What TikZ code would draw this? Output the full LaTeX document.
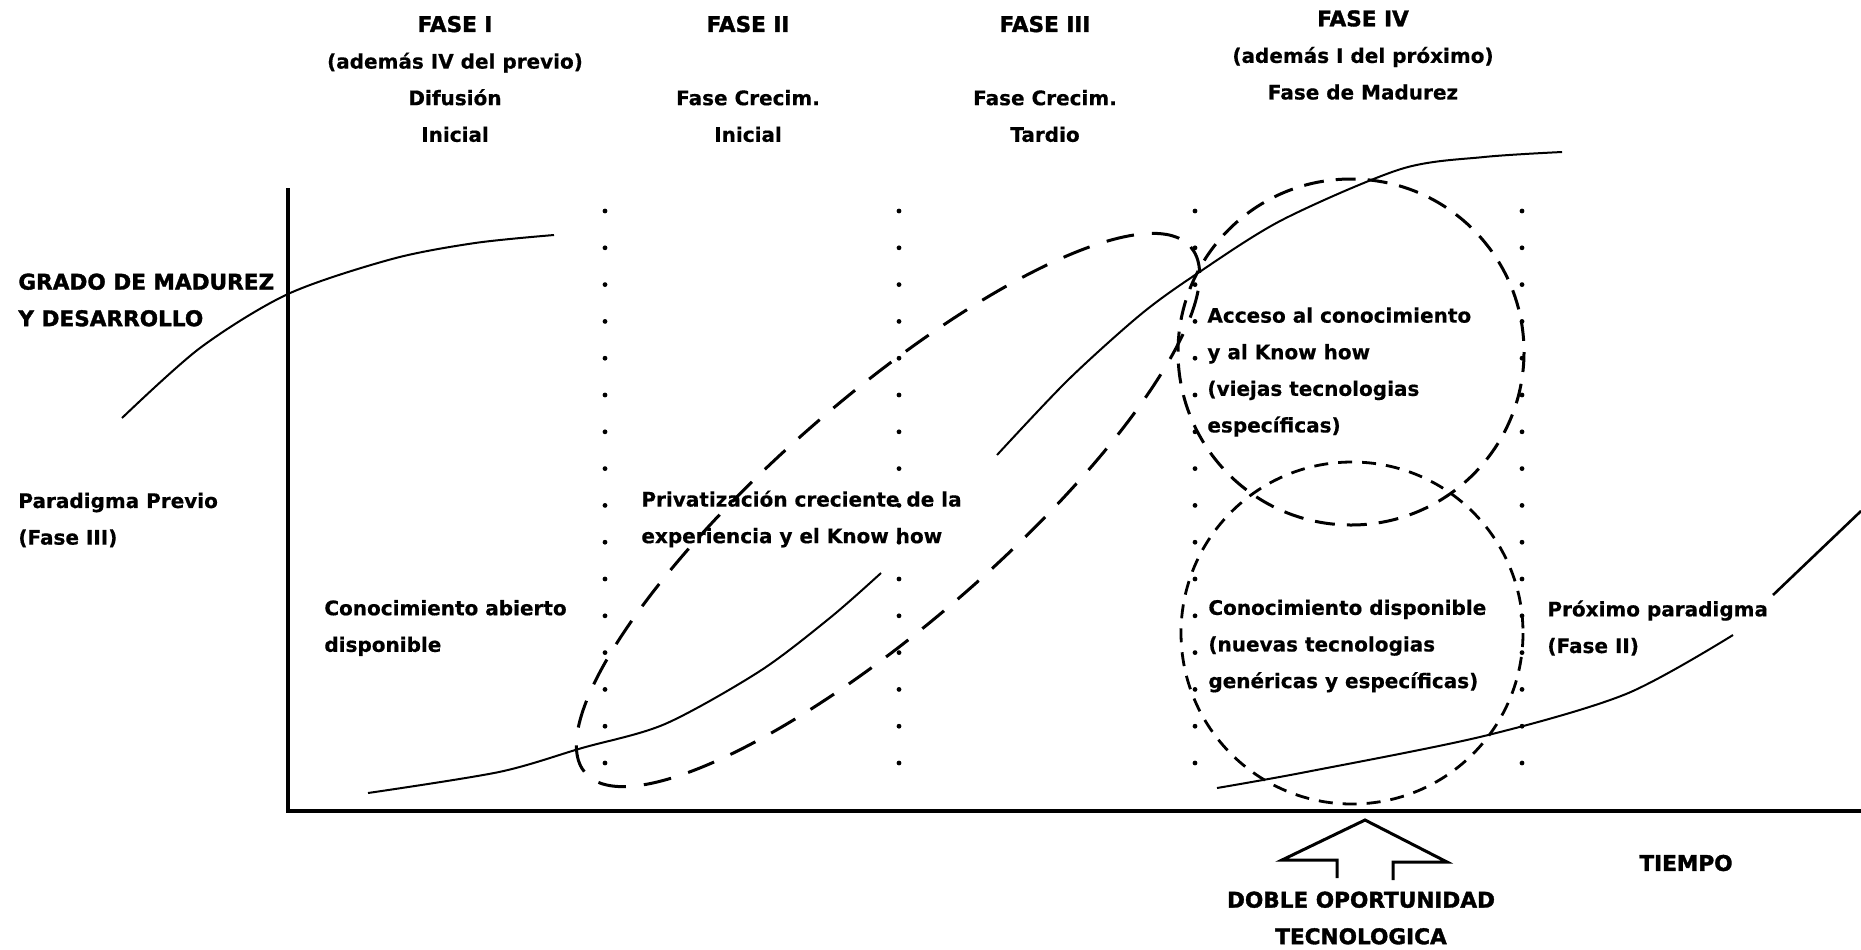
\documentclass[tikz,border=0pt]{standalone}
\usepackage{fontspec}
\setmainfont{DejaVu Sans}
\newfontfamily\bodyfont{DejaVu Sans}[FakeBold=0.5]
\newfontfamily\heavyfont{DejaVu Sans}[FakeBold=1.6]
\newcommand{\cuerpo}{\fontsize{10}{18.3}\bodyfont\bfseries}
\newcommand{\titulo}{\fontsize{10.8}{18.3}\heavyfont\bfseries}

\begin{document}
\begin{tikzpicture}[x=0.5pt, y=-0.5pt,
    curva/.style={line width=1pt},
    eje/.style={line width=1.7pt},
    puntos/.style={line width=2.4pt, line cap=round, dash pattern=on 0pt off 18.4pt},
    largo/.style={line width=1.5pt, dash pattern=on 14pt off 9pt},
    medio/.style={line width=1.5pt, dash pattern=on 10pt off 6pt},
    corto/.style={line width=1.4pt, dash pattern=on 7pt off 5pt},
    cab/.style={font=\cuerpo, align=center, inner sep=0pt},
    lbl/.style={font=\cuerpo, align=left, inner sep=0pt, anchor=west}]
  \useasboundingbox (0,0) rectangle (1861,949);
  % ejes
  \draw[eje] (288,188) -- (288,811) -- (1861,811);
  \foreach \x in {605,899,1195,1522}
    \draw[puntos] (\x,211) -- (\x,795);
  % curvas
  \draw[curva] plot[smooth] coordinates {(122,418) (200,348) (288,294) (392,259) (475,243) (554,235)};
  \draw[curva] plot[smooth] coordinates {(368,793) (499,772) (582,748) (665,724) (760,671) (831,617) (881,573)};
  \draw[curva] plot[smooth] coordinates {(997,455) (1068,380) (1140,315) (1195,275) (1282,220) (1401,169) (1484,157) (1562,152)};
  \draw[curva] plot[smooth] coordinates {(1217,788) (1306,772) (1484,736) (1626,694) (1733,635)};
  \draw[curva, line width=1.3pt] (1773,595) -- (1861,511);
  % zonas
  \draw[largo, rotate around={41:(888,510)}] (888,510) ellipse [x radius=401, y radius=113];
  \draw[medio] (1351,352) circle [radius=173];
  \draw[corto] (1352,633) circle [radius=171];
  % flecha doble
  \draw[line width=1.5pt] (1337,878) -- (1337,860) -- (1282,860) -- (1365,820) -- (1447,862) -- (1393,862) -- (1393,880);
  % textos
  \draw (455,79) node[cab] (fase1) {{\titulo FASE I}\\(además IV del previo)\\Difusión\\Inicial};
  \draw (748,79) node[cab] (fase2) {{\titulo FASE II}\\[18.3pt]Fase Crecim.\\Inicial};
  \draw (1045,79) node[cab] (fase3) {{\titulo FASE III}\\[18.3pt]Fase Crecim.\\Tardio};
  \draw (1363,55) node[cab] (fase4) {{\titulo FASE IV}\\(además I del próximo)\\Fase de Madurez};
  \draw (18,300) node[lbl] (grado) {{\titulo GRADO DE MADUREZ}\\{\titulo Y DESARROLLO}};
  \draw (18,520) node[lbl] (previo) {Paradigma Previo\\(Fase III)};
  \draw (324,628) node[lbl] (abierto) {Conocimiento abierto\\disponible};
  \draw (641,519) node[lbl] (privat) {Privatización creciente de la\\experiencia y el Know how};
  \draw (1207,372) node[lbl] (acceso) {Acceso al conocimiento\\y al Know how\\(viejas tecnologias\\específicas)};
  \draw (1208,646) node[lbl] (dispon) {Conocimiento disponible\\(nuevas tecnologias\\genéricas y específicas)};
  \draw (1547,628) node[lbl] (proximo) {Próximo paradigma\\(Fase II)};
  \draw (1686,863) node[cab] (tiempo) {\titulo TIEMPO};
  \draw (1361,918) node[cab] (doble) {{\titulo DOBLE OPORTUNIDAD}\\{\titulo TECNOLOGICA}};
\end{tikzpicture}
\end{document}
